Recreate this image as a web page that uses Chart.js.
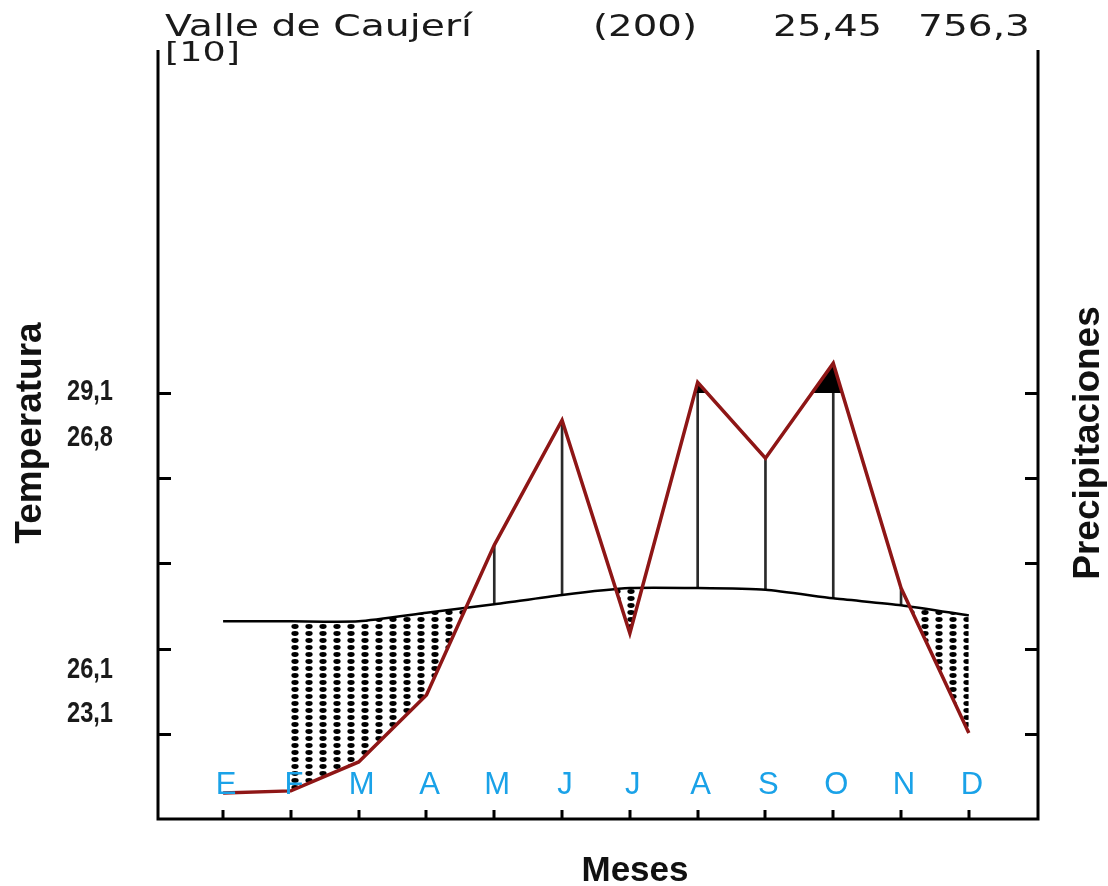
<!DOCTYPE html>
<html>
<head>
<meta charset="utf-8">
<script src="https://cdn.jsdelivr.net/npm/chart.js@4.4.1/dist/chart.umd.min.js"></script>
<style>
html, body { margin: 0; padding: 0; background: #fff; }
#wrap { width: 1108px; height: 886px; }
</style>
</head>
<body>
<div id="wrap"><canvas id="myChart" width="1108" height="886"></canvas></div>
<script>
// Diagrama ombrotérmico - Valle de Caujerí

const meses = ['E', 'F', 'M', 'A', 'M', 'J', 'J', 'A', 'S', 'O', 'N', 'D'];
const temperatura = [23.2, 23.2, 23.2, 24.2, 25.2, 26.3, 27.1, 27.1, 26.9, 25.9, 25.1, 23.9];
const precipitacion = [6.1, 6.6, 13.4, 29.1, 64.3, 93.6, 43.6, 102.5, 84.7, 107.0, 54.2, 20.2];
const cabecera = ['Valle de Caujerí', '(200)', '25,45', '756,3'];
const periodo = '[10]';
const valoresIzq = ['29,1', '26,8', '26,1', '23,1'];
const ticksEje = [10, 20, 30, 40, 50];

// trama de puntos para el periodo seco
function patronPuntos() {
    let c = document.createElement('canvas');
    c.width = 14;
    c.height = 7;
    let g = c.getContext('2d');
    g.fillStyle = '#000';
    g.beginPath();
    g.ellipse(7, 3.5, 3.6, 2.4, 0, 0, Math.PI * 2);
    g.fill();
    let p = g.createPattern(c, 'repeat');
    p.setTransform(new DOMMatrix().translate(8, 0));
    return p;
}

function textoAjustado(ctx, txt, x, y, ancho) {
    let w = ctx.measureText(txt).width;
    ctx.save();
    ctx.translate(x, y);
    ctx.scale(ancho / w, 1);
    ctx.fillText(txt, 0, 0);
    ctx.restore();
}

// marco, ejes y textos
const marco = {
    id: 'marco',
    afterDraw(chart) {
        let ctx = chart.ctx;
        let a = chart.chartArea;
        let sx = chart.scales.x;
        let sy = chart.scales.yT;

        ctx.save();
        ctx.strokeStyle = '#000';
        ctx.lineWidth = 3;
        ctx.beginPath();
        ctx.moveTo(a.left, a.top);
        ctx.lineTo(a.left, a.bottom);
        ctx.lineTo(a.right, a.bottom);
        ctx.lineTo(a.right, a.top);
        ctx.stroke();

        // marcas de los ejes, hacia dentro
        ctx.lineWidth = 3;
        ctx.beginPath();
        ticksEje.forEach(v => {
            let y = Math.round(sy.getPixelForValue(v)) + 0.5;
            ctx.moveTo(a.left, y);
            ctx.lineTo(a.left + 13, y);
            ctx.moveTo(a.right, y);
            ctx.lineTo(a.right - 13, y);
        });
        meses.forEach((m, i) => {
            let x = Math.round(sx.getPixelForValue(i + 1));
            ctx.moveTo(x, a.bottom);
            ctx.lineTo(x, a.bottom - 9);
        });
        ctx.stroke();

        // meses
        ctx.fillStyle = '#1aa2e8';
        ctx.font = '31px "Liberation Sans", Arial, sans-serif';
        ctx.textAlign = 'center';
        ctx.textBaseline = 'alphabetic';
        meses.forEach((m, i) => {
            ctx.fillText(m, sx.getPixelForValue(i + 1) + 3, a.bottom - 25);
        });

        // cabecera
        ctx.fillStyle = '#1a1a1a';
        ctx.textAlign = 'left';
        ctx.font = '30px "DejaVu Sans", Verdana, sans-serif';
        let posCab = [[165, 307], [593, 104], [773, 109], [918, 112]];
        cabecera.forEach((t, i) => textoAjustado(ctx, t, posCab[i][0], 36, posCab[i][1]));
        ctx.font = '26px "DejaVu Sans", Verdana, sans-serif';
        textoAjustado(ctx, periodo, 165, 61, 75);

        // valores a la izquierda
        ctx.fillStyle = '#1a1a1a';
        ctx.font = 'bold 30px "Liberation Sans Narrow", "Liberation Sans", Arial, sans-serif';
        let posIzq = [400, 446, 678, 722];
        valoresIzq.forEach((t, i) => textoAjustado(ctx, t, 67, posIzq[i], 46));

        // titulos de ejes
        ctx.fillStyle = '#111';
        ctx.font = 'bold 37px "Liberation Sans", Arial, sans-serif';
        ctx.textAlign = 'center';
        ctx.save();
        ctx.translate(41, 433);
        ctx.rotate(-Math.PI / 2);
        ctx.fillText('Temperatura', 0, 0);
        ctx.restore();
        ctx.save();
        ctx.translate(1099, 443);
        ctx.rotate(-Math.PI / 2);
        ctx.fillText('Precipitaciones', 0, 0);
        ctx.restore();
        ctx.font = 'bold 35px "Liberation Sans", Arial, sans-serif';
        ctx.fillText('Meses', 635, 881);
        ctx.restore();
    }
};

let puntosT = temperatura.map((t, i) => ({ x: i + 1, y: t }));
let puntosP = precipitacion.map((p, i) => ({ x: i + 1, y: p }));
// el punteado empieza en febrero
let puntosSeco = precipitacion.map((p, i) => ({ x: i + 1, y: i === 0 ? null : p }));
// lineas verticales del periodo humedo (precipitacion en escala 2:1)
let humedo = [];
precipitacion.forEach((p, i) => {
    if (p / 2 > temperatura[i]) humedo.push({ x: i + 1, y: [temperatura[i], p / 2] });
});

let ctx = document.getElementById('myChart').getContext('2d');
let chart = new Chart(ctx, {
    data: {
        datasets: [
            {
                type: 'line',
                label: 'Temperatura',
                data: puntosT,
                yAxisID: 'yT',
                borderColor: '#000',
                borderWidth: 2.5,
                pointRadius: 0,
                tension: 0.2,
                fill: false,
                order: 1
            },
            {
                type: 'line',
                label: 'Precipitaciones',
                data: puntosP,
                yAxisID: 'yP',
                borderColor: '#8e1616',
                borderWidth: 3.5,
                pointRadius: 0,
                tension: 0,
                fill: { target: { value: 100 }, above: '#000', below: 'rgba(0,0,0,0)' },
                order: 0
            },
            {
                type: 'line',
                label: 'seco',
                data: puntosSeco,
                yAxisID: 'yP',
                borderColor: 'rgba(0,0,0,0)',
                borderWidth: 1,
                pointRadius: 0,
                tension: 0,
                fill: { target: 0, above: 'rgba(0,0,0,0)', below: patronPuntos() },
                order: 3
            },
            {
                type: 'bar',
                label: 'humedo',
                data: humedo,
                yAxisID: 'yT',
                backgroundColor: '#2a2a2a',
                borderWidth: 0,
                barThickness: 2,
                order: 2
            }
        ]
    },
    options: {
        responsive: false,
        animation: false,
        devicePixelRatio: 1,
        layout: { padding: { left: 158, right: 70, top: 50, bottom: 67 } },
        plugins: {
            legend: { display: false },
            tooltip: { enabled: false },
            title: { display: false }
        },
        scales: {
            x: { type: 'linear', min: 0.04, max: 13.02, offset: false, display: false },
            yT: { type: 'linear', min: 0, max: 90.258, display: false },
            yP: { type: 'linear', min: 0, max: 180.516, display: false }
        }
    },
    plugins: [marco]
});
</script>
</body>
</html>
